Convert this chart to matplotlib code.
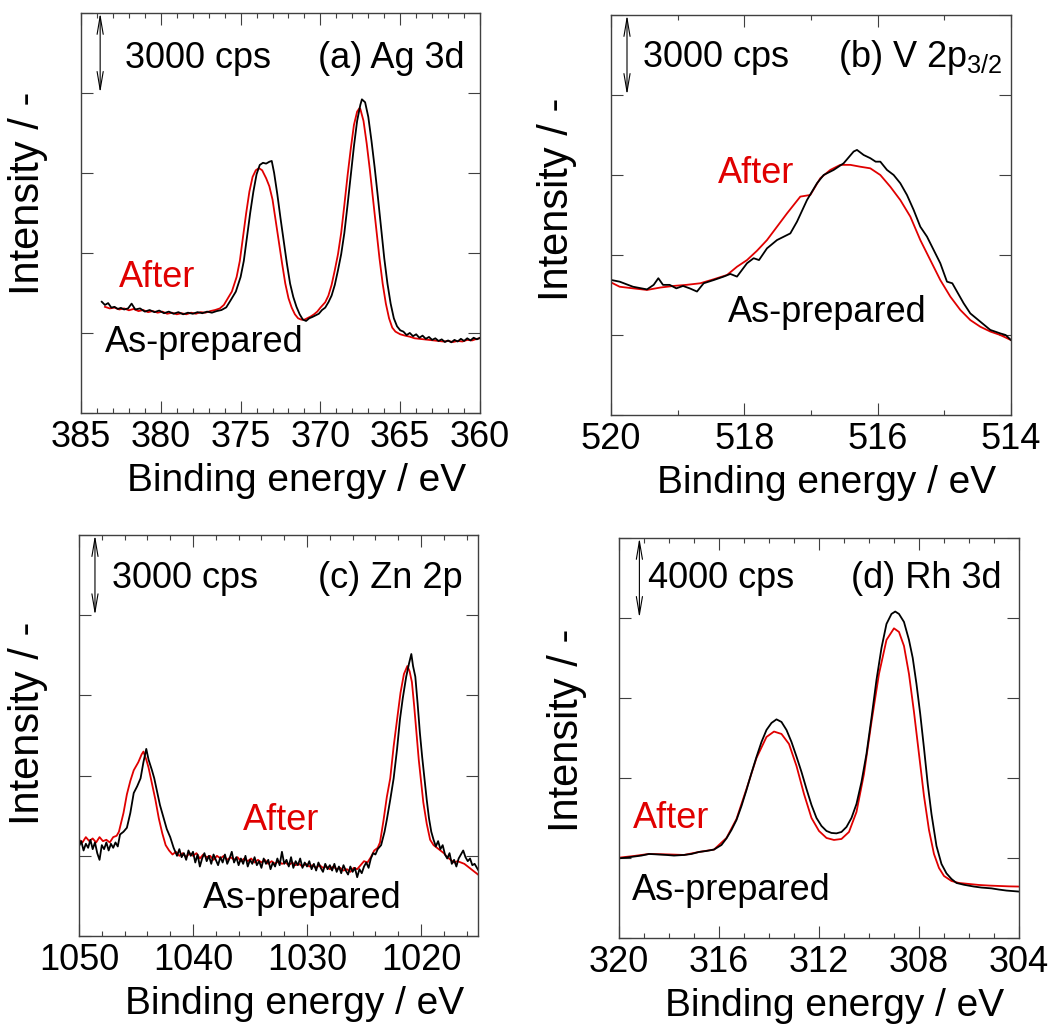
import numpy as np
import matplotlib
matplotlib.use('Agg')
import matplotlib.pyplot as plt
from matplotlib.ticker import MultipleLocator

plt.rcParams['font.family'] = ['Liberation Sans', 'DejaVu Sans']
plt.rcParams['mathtext.default'] = 'regular'

RED = '#e00000'

# (binding energy / eV, intensity / 1000 cps)
ag_prep = [(383.7, 4.17), (383.5, 4.05), (383.3, 4.12), (383.1, 3.95), (382.9, 3.98), (382.7, 3.90),
           (382.5, 3.94), (382.3, 3.88), (382.05, 3.92), (381.83, 4.10), (381.6, 3.88), (381.3, 3.92),
           (381.0, 3.80), (380.7, 3.86), (380.4, 3.78), (380.1, 3.84), (379.8, 3.74), (379.5, 3.80),
           (379.2, 3.72), (378.9, 3.78), (378.6, 3.70), (378.3, 3.76), (378.0, 3.72), (377.7, 3.78),
           (377.4, 3.74), (377.1, 3.80), (376.8, 3.76), (376.5, 3.82), (376.2, 3.86), (375.9, 3.96),
           (375.6, 4.25), (375.3, 4.55), (375.0, 5.1), (374.8, 5.7), (374.6, 6.6), (374.4, 7.5),
           (374.2, 8.3), (374.0, 8.95), (373.8, 9.3), (373.6, 9.38), (373.4, 9.35), (373.2, 9.42),
           (373.05, 9.45), (372.9, 9.0), (372.7, 8.2), (372.5, 7.3), (372.3, 6.45), (372.1, 5.6),
           (371.9, 4.85), (371.7, 4.35), (371.5, 3.98), (371.3, 3.70), (371.1, 3.50), (370.9, 3.45),
           (370.7, 3.55), (370.5, 3.60), (370.3, 3.66), (370.1, 3.72), (369.9, 3.86), (369.7, 3.95),
           (369.5, 4.15), (369.3, 4.40), (369.1, 4.80), (368.9, 5.35), (368.7, 5.95), (368.5, 6.75),
           (368.3, 7.8), (368.1, 8.9), (367.9, 10.0), (367.7, 10.95), (367.5, 11.55), (367.4, 11.76),
           (367.2, 11.65), (367.0, 11.1), (366.8, 10.2), (366.6, 9.2), (366.4, 8.1), (366.2, 6.95),
           (366.0, 5.8), (365.8, 4.85), (365.6, 4.10), (365.4, 3.55), (365.2, 3.25), (365.0, 3.10),
           (364.8, 3.05), (364.6, 2.92), (364.4, 3.00), (364.2, 2.88), (364.0, 2.95), (363.8, 2.82),
           (363.6, 2.90), (363.4, 2.78), (363.2, 2.85), (363.0, 2.74), (362.8, 2.80), (362.6, 2.70),
           (362.4, 2.76), (362.2, 2.66), (362.0, 2.72), (361.8, 2.65), (361.6, 2.74), (361.4, 2.68),
           (361.2, 2.78), (361.0, 2.70), (360.8, 2.80), (360.6, 2.72), (360.4, 2.82), (360.2, 2.76),
           (360.0, 2.82)]
ag_after = [(383.5, 3.98), (383.2, 3.92), (382.9, 3.95), (382.6, 3.88), (382.3, 3.92), (382.0, 3.85),
            (381.7, 3.90), (381.4, 3.82), (381.1, 3.86), (380.8, 3.78), (380.5, 3.82), (380.2, 3.76),
            (379.9, 3.80), (379.6, 3.72), (379.3, 3.76), (379.0, 3.70), (378.7, 3.74), (378.4, 3.70),
            (378.1, 3.76), (377.8, 3.72), (377.5, 3.78), (377.2, 3.76), (376.9, 3.82), (376.6, 3.86),
            (376.3, 3.92), (376.05, 4.05), (375.85, 4.25), (375.55, 4.55), (375.25, 5.1), (375.05, 5.7),
            (374.85, 6.6), (374.65, 7.5), (374.45, 8.3), (374.25, 8.85), (374.05, 9.1), (373.85, 9.18),
            (373.65, 9.1), (373.4, 8.8), (373.2, 8.5), (373.0, 8.0), (372.8, 7.2), (372.6, 6.4),
            (372.4, 5.6), (372.2, 4.85), (372.0, 4.3), (371.8, 3.95), (371.6, 3.7), (371.4, 3.55),
            (371.2, 3.5), (371.0, 3.5), (370.8, 3.56), (370.6, 3.62), (370.4, 3.7), (370.2, 3.8),
            (370.0, 3.95), (369.7, 4.15), (369.5, 4.4), (369.3, 4.8), (369.1, 5.35), (368.9, 5.95),
            (368.7, 6.75), (368.5, 7.8), (368.3, 8.9), (368.1, 9.9), (367.9, 10.8), (367.7, 11.3),
            (367.55, 11.43), (367.5, 11.4), (367.3, 10.95), (367.1, 10.1), (366.9, 9.1), (366.7, 8.0),
            (366.5, 6.9), (366.3, 5.8), (366.1, 4.85), (365.9, 4.1), (365.7, 3.55), (365.5, 3.2),
            (365.3, 3.05), (365.0, 2.95), (364.7, 2.9), (364.4, 2.86), (364.1, 2.8), (363.8, 2.78),
            (363.5, 2.76), (363.2, 2.74), (362.9, 2.72), (362.6, 2.70), (362.3, 2.68), (362.0, 2.70),
            (361.7, 2.66), (361.4, 2.70), (361.1, 2.68), (360.8, 2.74), (360.5, 2.72), (360.2, 2.78),
            (360.0, 2.80)]

v_prep = [(519.99, 5.06), (519.87, 5.0), (519.67, 4.81), (519.46, 4.71), (519.36, 4.88), (519.29, 5.13),
          (519.22, 4.88), (519.12, 4.88), (519.02, 4.75), (518.92, 4.84), (518.82, 4.75), (518.71, 4.63),
          (518.61, 4.94), (518.46, 5.06), (518.31, 5.19), (518.21, 5.29), (518.11, 5.19), (517.96, 5.69),
          (517.86, 5.88), (517.78, 5.81), (517.66, 6.25), (517.51, 6.56), (517.31, 6.81), (517.21, 7.25),
          (517.06, 8.06), (516.91, 8.69), (516.81, 9.0), (516.66, 9.19), (516.51, 9.44), (516.36, 9.88),
          (516.31, 9.94), (516.21, 9.75), (516.11, 9.63), (516.03, 9.5), (515.96, 9.5), (515.86, 9.19),
          (515.76, 9.0), (515.66, 8.69), (515.56, 8.25), (515.46, 7.69), (515.36, 7.06), (515.26, 6.69),
          (515.16, 6.19), (515.06, 5.69), (514.96, 5.0), (514.88, 4.94), (514.81, 4.63), (514.71, 4.19),
          (514.61, 3.81), (514.46, 3.5), (514.31, 3.19), (514.16, 3.06), (514.08, 3.0), (514.0, 2.81)]
v_after = [(519.99, 4.96), (519.87, 4.81), (519.67, 4.75), (519.46, 4.69), (519.26, 4.78), (519.06, 4.84),
           (518.87, 4.88), (518.66, 4.94), (518.46, 5.09), (518.26, 5.25), (518.11, 5.56), (517.96, 5.81),
           (517.81, 6.16), (517.66, 6.56), (517.51, 7.06), (517.36, 7.56), (517.16, 8.19), (517.01, 8.25),
           (516.86, 8.88), (516.71, 9.19), (516.56, 9.38), (516.41, 9.38), (516.26, 9.31), (516.11, 9.25),
           (515.96, 9.0), (515.81, 8.56), (515.66, 8.06), (515.51, 7.44), (515.36, 6.56), (515.21, 5.81),
           (515.06, 5.06), (514.91, 4.44), (514.76, 3.94), (514.61, 3.56), (514.46, 3.31), (514.31, 3.13),
           (514.16, 3.0), (514.0, 2.81)]

zn_prep = [(1050.0, 3.35), (1049.8, 3.55), (1049.6, 3.2), (1049.4, 3.45), (1049.2, 3.3), (1049.0, 3.6),
           (1048.8, 3.25), (1048.6, 3.5), (1048.4, 3.1), (1048.2, 2.85), (1048.0, 3.4), (1047.8, 3.25),
           (1047.6, 3.5), (1047.4, 3.2), (1047.2, 3.45), (1047.0, 3.3), (1046.8, 3.5), (1046.6, 3.35),
           (1046.4, 3.8), (1046.1, 3.9), (1045.8, 4.05), (1045.5, 4.6), (1045.2, 5.35), (1044.9, 5.6),
           (1044.6, 5.9), (1044.35, 6.5), (1044.1, 7.0), (1043.9, 6.6), (1043.6, 6.2), (1043.4, 5.9),
           (1043.2, 5.5), (1042.9, 4.9), (1042.6, 4.45), (1042.3, 4.0), (1042.0, 3.7), (1041.7, 3.3),
           (1041.4, 3.0), (1041.2, 3.25), (1041.0, 2.95), (1040.8, 3.1), (1040.6, 2.85), (1040.4, 3.2),
           (1040.2, 3.0), (1040.0, 3.15), (1039.8, 2.75), (1039.6, 3.05), (1039.4, 2.6), (1039.2, 2.9),
           (1039.0, 3.1), (1038.8, 2.8), (1038.6, 3.0), (1038.4, 2.7), (1038.2, 3.05), (1038.0, 2.85),
           (1037.8, 2.65), (1037.6, 2.95), (1037.4, 2.75), (1037.2, 3.05), (1037.0, 2.7), (1036.8, 2.9),
           (1036.6, 3.15), (1036.4, 2.75), (1036.2, 2.95), (1036.0, 2.65), (1035.8, 2.9), (1035.6, 2.7),
           (1035.4, 3.0), (1035.2, 2.6), (1035.0, 2.85), (1034.8, 2.7), (1034.6, 2.95), (1034.4, 2.65),
           (1034.2, 2.8), (1034.0, 2.55), (1033.8, 2.9), (1033.6, 2.7), (1033.4, 2.85), (1033.2, 2.5),
           (1033.0, 2.75), (1032.8, 2.6), (1032.6, 2.9), (1032.4, 2.65), (1032.2, 3.15), (1032.0, 2.7),
           (1031.8, 2.85), (1031.6, 2.6), (1031.4, 2.95), (1031.2, 2.55), (1031.0, 2.8), (1030.8, 2.65),
           (1030.6, 2.9), (1030.4, 2.55), (1030.2, 2.75), (1030.0, 2.6), (1029.8, 2.8), (1029.6, 2.5),
           (1029.4, 2.7), (1029.2, 2.45), (1029.0, 2.75), (1028.8, 2.55), (1028.6, 2.4), (1028.4, 2.7),
           (1028.2, 2.5), (1028.0, 2.65), (1027.8, 2.45), (1027.6, 2.7), (1027.4, 2.4), (1027.2, 2.6),
           (1027.0, 2.35), (1026.8, 2.65), (1026.6, 2.45), (1026.4, 2.3), (1026.2, 2.6), (1026.0, 2.4),
           (1025.8, 2.55), (1025.6, 2.2), (1025.4, 2.5), (1025.2, 2.35), (1025.0, 2.6), (1024.8, 2.75),
           (1024.6, 2.55), (1024.4, 2.9), (1024.2, 3.1), (1024.0, 3.05), (1023.8, 3.25), (1023.5, 3.4),
           (1023.2, 3.9), (1023.0, 4.35), (1022.7, 5.1), (1022.4, 5.9), (1022.1, 7.0), (1021.85, 8.1),
           (1021.6, 8.9), (1021.3, 9.7), (1021.05, 10.2), (1020.85, 10.55), (1020.7, 10.1), (1020.5, 9.7),
           (1020.3, 8.7), (1020.1, 7.6), (1019.9, 6.7), (1019.7, 5.9), (1019.5, 5.1), (1019.3, 4.4),
           (1019.1, 3.9), (1018.9, 3.6), (1018.7, 3.35), (1018.5, 3.55), (1018.3, 3.25), (1018.1, 3.4),
           (1017.9, 3.05), (1017.7, 2.9), (1017.5, 3.1), (1017.3, 2.7), (1017.1, 2.85), (1016.9, 2.6),
           (1016.7, 2.9), (1016.5, 3.05), (1016.3, 3.2), (1016.1, 2.95), (1015.9, 2.8), (1015.7, 2.9),
           (1015.5, 2.65), (1015.3, 2.7), (1015.0, 2.48)]
zn_after = [(1050.0, 3.6), (1049.7, 3.5), (1049.4, 3.7), (1049.1, 3.55), (1048.8, 3.65), (1048.5, 3.5),
            (1048.2, 3.7), (1047.9, 3.55), (1047.6, 3.6), (1047.3, 3.5), (1047.0, 3.7), (1046.7, 3.75),
            (1046.5, 3.9), (1046.1, 4.6), (1045.8, 5.3), (1045.5, 5.8), (1045.2, 6.2), (1044.8, 6.5),
            (1044.5, 6.8), (1044.35, 6.9), (1044.1, 6.6), (1043.9, 6.3), (1043.6, 5.7), (1043.3, 5.1),
            (1043.0, 4.4), (1042.7, 3.85), (1042.4, 3.4), (1042.1, 3.2), (1041.8, 3.05), (1041.5, 3.15),
            (1041.2, 3.0), (1040.9, 3.1), (1040.6, 2.95), (1040.3, 3.1), (1040.0, 3.0), (1039.7, 3.1),
            (1039.4, 2.9), (1039.1, 3.05), (1038.8, 2.95), (1038.5, 3.0), (1038.2, 2.85), (1037.9, 3.0),
            (1037.6, 2.9), (1037.3, 3.0), (1037.0, 2.85), (1036.7, 2.95), (1036.4, 2.85), (1036.1, 2.95),
            (1035.8, 2.8), (1035.5, 2.9), (1035.2, 2.8), (1034.9, 2.9), (1034.6, 2.75), (1034.3, 2.85),
            (1034.0, 2.75), (1033.7, 2.85), (1033.4, 2.7), (1033.1, 2.8), (1032.8, 2.7), (1032.5, 2.8),
            (1032.2, 2.7), (1031.9, 2.75), (1031.6, 2.65), (1031.3, 2.75), (1031.0, 2.65), (1030.7, 2.7),
            (1030.4, 2.6), (1030.1, 2.7), (1029.8, 2.6), (1029.5, 2.65), (1029.2, 2.55), (1028.9, 2.65),
            (1028.6, 2.55), (1028.3, 2.6), (1028.0, 2.5), (1027.7, 2.6), (1027.4, 2.5), (1027.1, 2.55),
            (1026.8, 2.45), (1026.5, 2.5), (1026.2, 2.4), (1025.9, 2.55), (1025.6, 2.5), (1025.3, 2.65),
            (1025.0, 2.8), (1024.7, 2.75), (1024.4, 2.95), (1024.1, 3.2), (1023.8, 3.3), (1023.6, 3.5),
            (1023.3, 4.3), (1023.0, 5.2), (1022.7, 5.9), (1022.4, 7.1), (1022.1, 8.1), (1021.8, 9.1),
            (1021.5, 9.8), (1021.2, 10.1), (1021.0, 9.9), (1020.8, 9.5), (1020.6, 8.6), (1020.4, 7.6),
            (1020.2, 6.6), (1020.0, 5.8), (1019.8, 5.0), (1019.5, 4.2), (1019.2, 3.6), (1018.9, 3.4),
            (1018.6, 3.3), (1018.3, 3.2), (1018.0, 3.1), (1017.7, 2.95), (1017.4, 2.85), (1017.1, 2.75),
            (1016.8, 2.8), (1016.5, 2.75), (1016.2, 2.7), (1015.9, 2.6), (1015.6, 2.5), (1015.3, 2.4),
            (1015.0, 2.3)]

rh_prep = [(320.0, 3.98), (319.7, 4.02), (319.4, 4.07), (319.1, 4.12), (318.8, 4.2), (318.5, 4.18),
           (318.1, 4.15), (317.8, 4.12), (317.4, 4.15), (317.1, 4.2), (316.8, 4.3), (316.5, 4.35),
           (316.2, 4.42), (315.9, 4.65), (315.7, 4.98), (315.5, 5.4), (315.3, 5.9), (315.1, 6.6),
           (314.9, 7.4), (314.7, 8.25), (314.5, 9.05), (314.3, 9.8), (314.1, 10.4), (313.9, 10.75),
           (313.7, 10.93), (313.5, 10.8), (313.3, 10.4), (313.1, 9.8), (312.9, 9.07), (312.7, 8.3),
           (312.5, 7.45), (312.3, 6.65), (312.1, 6.0), (311.9, 5.6), (311.7, 5.35), (311.5, 5.25),
           (311.3, 5.23), (311.1, 5.3), (310.9, 5.55), (310.7, 6.0), (310.5, 6.7), (310.3, 7.8),
           (310.1, 9.2), (309.9, 11.0), (309.7, 12.9), (309.5, 14.5), (309.3, 15.7), (309.1, 16.2),
           (308.95, 16.32), (308.8, 16.2), (308.6, 15.8), (308.4, 14.9), (308.25, 14.0), (308.1, 12.7),
           (307.95, 11.2), (307.8, 9.5), (307.65, 7.7), (307.5, 6.2), (307.3, 4.6), (307.1, 3.7),
           (306.9, 3.23), (306.7, 2.95), (306.5, 2.75), (306.2, 2.66), (305.8, 2.57), (305.5, 2.52),
           (305.1, 2.48), (304.8, 2.42), (304.5, 2.37), (304.2, 2.34), (304.0, 2.32)]
rh_after = [(319.96, 4.02), (319.4, 4.1), (318.8, 4.2), (318.1, 4.18), (317.4, 4.15), (316.8, 4.3),
            (316.2, 4.42), (315.7, 5.0), (315.3, 5.95), (314.9, 7.45), (314.5, 9.0), (314.1, 10.05),
            (313.8, 10.32), (313.5, 10.2), (313.2, 9.7), (312.9, 8.6), (312.6, 7.2), (312.3, 6.0),
            (312.0, 5.35), (311.7, 5.0), (311.4, 4.9), (311.1, 4.95), (310.8, 5.3), (310.5, 6.3),
            (310.2, 8.2), (309.9, 10.8), (309.6, 13.2), (309.3, 14.9), (309.0, 15.48), (308.8, 15.3),
            (308.6, 14.6), (308.4, 13.2), (308.2, 11.3), (308.0, 9.2), (307.8, 7.1), (307.6, 5.4),
            (307.4, 4.2), (307.2, 3.5), (307.0, 3.1), (306.7, 2.85), (306.4, 2.75), (306.0, 2.7),
            (305.6, 2.65), (305.2, 2.62), (304.8, 2.6), (304.4, 2.58), (304.0, 2.57)]


def style_axes(ax, xlim, xmaj, xmin, ymax, ystep):
    ax.set_xlim(xlim)
    ax.set_ylim(0, ymax)
    ax.xaxis.set_major_locator(MultipleLocator(xmaj))
    ax.xaxis.set_minor_locator(MultipleLocator(xmin))
    ax.yaxis.set_major_locator(MultipleLocator(ystep))
    ax.tick_params(which='both', direction='in', top=True, right=True,
                   color='#404040', width=0.8, labelsize=26, pad=5)
    ax.tick_params(which='major', length=8.5)
    ax.tick_params(which='minor', length=3.5)
    ax.tick_params(axis='y', labelleft=False)
    for sp in ax.spines.values():
        sp.set_color('#404040')
        sp.set_linewidth(1.0)


def draw_panel(ax, prep, after, xlim, xmaj, xmin, ymax, ystep, scale_txt, title,
               arrow_x, txt_pos, after_pos, prep_pos, ylab_pos):
    e1, i1 = np.array(after).T
    e2, i2 = np.array(prep).T
    ax.plot(e1, i1, color=RED, lw=1.3)
    ax.plot(e2, i2, color='black', lw=1.3)
    style_axes(ax, xlim, xmaj, xmin, ymax, ystep)

    # scale bar
    ax.annotate('', xy=(arrow_x, ymax), xytext=(arrow_x, ymax - ystep),
                xycoords=('axes fraction', 'data'), textcoords=('axes fraction', 'data'),
                arrowprops=dict(arrowstyle='<->,head_length=1.3,head_width=0.22',
                                lw=0.8, color='black', shrinkA=0, shrinkB=0,
                                mutation_scale=10))
    ax.text(txt_pos[0], txt_pos[2], scale_txt, fontsize=26, ha='left', va='baseline',
            transform=ax.transAxes)
    ax.text(txt_pos[1], txt_pos[2], title, fontsize=26, ha='right', va='baseline',
            transform=ax.transAxes)
    ax.text(after_pos[0], after_pos[1], 'After', color=RED, fontsize=26,
            ha='left', va='baseline', transform=ax.transAxes)
    ax.text(prep_pos[0], prep_pos[1], 'As-prepared', color='black', fontsize=26,
            ha='left', va='baseline', transform=ax.transAxes)

    ax.set_xlabel('Binding energy / eV', fontsize=28)
    ax.xaxis.set_label_coords(0.54, -0.125)
    ax.text(ylab_pos[0], ylab_pos[1], 'Intensity / -', fontsize=30, rotation=90,
            ha='center', va='center', transform=ax.transAxes)


fig = plt.figure(figsize=(10.52, 10.26), dpi=100)
ax1 = fig.add_axes([0.0770, 0.5975, 0.3793, 0.3899])
ax2 = fig.add_axes([0.5808, 0.5955, 0.3802, 0.3899])
ax3 = fig.add_axes([0.0751, 0.0877, 0.3793, 0.3908])
ax4 = fig.add_axes([0.5884, 0.0858, 0.3802, 0.3899])

draw_panel(ax1, ag_prep, ag_after, (385, 360), 5, 1, 15, 3, '3000 cps', '(a) Ag 3d',
           0.048, (0.110, 0.962, 0.8625), (0.095, 0.315), (0.060, 0.1525), (-0.133, 0.55))
draw_panel(ax2, v_prep, v_after, (520, 514), 2, 1, 15, 3, '3000 cps', '(b) V 2p$_{3/2}$',
           0.040, (0.080, 0.980, 0.87), (0.2675, 0.58), (0.2925, 0.2325), (-0.135, 0.54))
draw_panel(ax3, zn_prep, zn_after, (1050, 1015), 10, 2, 15, 3, '3000 cps', '(c) Zn 2p',
           0.040, (0.083, 0.962, 0.868), (0.411, 0.264), (0.311, 0.07), (-0.128, 0.53))
draw_panel(ax4, rh_prep, rh_after, (320, 304), 4, 1, 20, 4, '4000 cps', '(d) Rh 3d',
           0.051, (0.0725, 0.9575, 0.875), (0.035, 0.275), (0.0325, 0.095), (-0.13, 0.52))

fig.savefig('out.png', dpi=100)
